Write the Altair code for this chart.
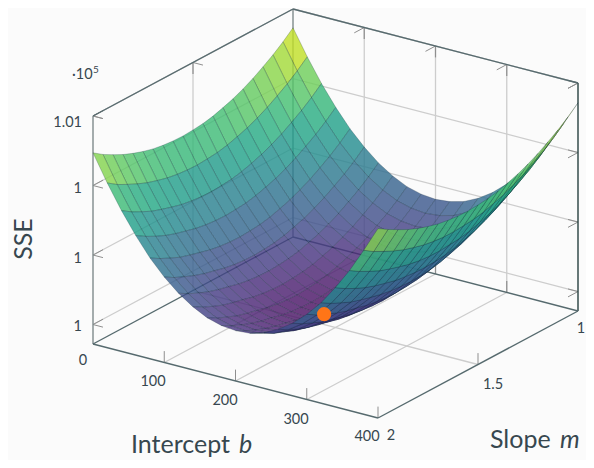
import altair as alt

W, H = 578, 452
FONT = "Lato"
INK = "#37474f"

# axis values
B_TICKS = [0, 100, 200, 300, 400]
M_TICKS = [1, 1.5, 2]
SSE_TICKS = [100000, 100200, 100400, 100600]
SSE_LABELS = ["1", "1", "1", "1.01"]

# grid of the surface: intercept b in steps of 20, slope m in steps of 0.05
B_GRID = [i * 20 for i in range(21)]
M_GRID = [1 + j * 0.05 for j in range(21)]

# SSE minus 100000; one row per b, one column per m
SSE_ROWS = [
    [546,521,499,480,462,447,434,424,415,409,406,404,405,408,413,421,431,443,458,474,494],
    [473,448,426,407,389,374,361,351,342,336,333,331,332,335,340,348,357,369,383,398,418],
    [407,382,360,341,323,308,295,285,276,270,267,265,266,269,274,282,291,301,315,330,349],
    [349,324,302,283,265,250,237,227,218,212,209,207,208,211,216,224,232,242,255,270,288],
    [298,273,251,232,214,199,186,176,167,161,158,156,157,160,165,173,181,190,203,217,234],
    [256,231,209,190,172,157,144,134,125,119,116,114,115,118,123,131,138,148,160,173,190],
    [221,196,174,155,137,122,109,99,90,84,81,79,80,83,88,96,103,112,124,137,154],
    [194,169,147,128,110,95,82,72,63,57,54,52,53,56,61,69,76,84,96,109,126],
    [174,149,127,108,90,75,62,52,43,37,34,32,33,36,41,49,56,64,76,88,105],
    [163,138,116,97,79,64,51,41,32,26,23,21,22,25,30,38,44,53,64,77,93],
    [159,134,112,93,75,60,47,37,28,22,19,17,18,21,26,34,40,49,60,73,89],
    [163,138,116,97,79,64,51,41,32,26,23,21,22,25,30,38,44,53,64,77,92],
    [174,149,127,108,90,75,62,52,43,37,34,32,33,36,41,49,56,64,76,87,104],
    [194,169,147,128,110,95,82,72,63,57,54,52,53,56,61,69,76,84,95,108,125],
    [221,196,174,155,137,122,109,99,90,84,81,79,80,83,88,96,103,111,123,136,153],
    [256,231,209,190,172,157,144,134,125,119,116,114,115,118,123,131,137,147,159,172,189],
    [298,273,251,232,214,199,186,176,167,161,158,156,157,160,165,172,180,189,202,216,233],
    [349,324,302,283,265,250,237,227,218,212,209,207,208,211,215,223,231,241,254,269,287],
    [407,382,360,341,323,308,295,285,276,270,267,265,265,268,273,281,290,300,314,329,347],
    [473,448,426,407,389,374,361,351,342,336,333,331,331,334,339,347,356,368,382,397,416],
    [543,518,496,477,459,444,431,421,412,406,403,401,402,405,410,418,428,440,455,471,489],
]

MIN_POINT = {"b": 200, "m": 1.557, "sse": 100000}

# view of the 3-d box
SSE_LOW, SSE_HIGH = 99944.0, 100600.0


def project(b, m, sse):
    u, v = b / 400, m - 1
    z = (sse - SSE_LOW) / (SSE_HIGH - SSE_LOW)
    return (85 + 285 * u + 200 * (1 - v), 336 + 74 * u - 107 * (1 - v) - 228 * z)


# surface cells, back to front
cells = []
for i in range(20):
    for j in range(20):
        corners = [(i, j), (i + 1, j), (i + 1, j + 1), (i, j + 1)]
        vals = [100000 + SSE_ROWS[a][c] for a, c in corners]
        ring = [list(project(B_GRID[a], M_GRID[c], s)) for (a, c), s in zip(corners, vals)]
        ring.append(ring[0])
        cells.append({
            "type": "Feature",
            "geometry": {"type": "Polygon", "coordinates": [ring]},
            "properties": {},
            "sse": sum(vals) / 4,
        })

GRID_C, TICK_C, BOX_C, EDGE_C = "#cdcdcd", "#8f8f8f", "#566a6e", "#7f8a8c"
segs = {}


def seg(p, q, c, w):
    a, d = project(*p), project(*q)
    segs.setdefault((c, w), []).append({"x": a[0], "y": a[1], "x2": d[0], "y2": d[1]})


def poly(pts, c, w):
    for p, q in zip(pts, pts[1:]):
        seg(p, q, c, w)


TOP, LOW = SSE_HIGH, SSE_LOW
STUB = 0.05 * (SSE_HIGH - SSE_LOW)
for b in B_TICKS[1:-1]:
    poly([(b, 2, LOW), (b, 1, LOW), (b, 1, TOP)], GRID_C, 1.3)
for m in [1.5]:
    poly([(400, m, LOW), (0, m, LOW), (0, m, TOP)], GRID_C, 1.3)
for s in SSE_TICKS:
    poly([(0, 2, s), (0, 1, s), (400, 1, s)], GRID_C, 1.3)
poly([(0, 2, TOP), (0, 1, TOP), (400, 1, TOP)], GRID_C, 1.3)

for s in SSE_TICKS + [TOP]:
    seg((0, 2, s), (0, 1.95, s), TICK_C, 1)
    seg((0, 2, s), (14, 2, s), TICK_C, 1)
    seg((400, 1, s), (400, 1.05, s), TICK_C, 1)
    seg((400, 1, s), (386, 1, s), TICK_C, 1)
for b in B_TICKS[1:-1]:
    seg((b, 2, LOW), (b, 2, LOW + STUB), TICK_C, 1)
    seg((b, 1, TOP), (b, 1, TOP - STUB), TICK_C, 1.2)
    seg((b, 1, TOP), (b, 1.05, TOP), TICK_C, 1)
    seg((b, 1, LOW), (b, 1, LOW + STUB), TICK_C, 1.2)
seg((400, 1.5, LOW), (400, 1.5, LOW + STUB), TICK_C, 1)
seg((400, 2, LOW), (400, 2, LOW + STUB), TICK_C, 1)
seg((0, 1.5, TOP), (0, 1.5, TOP - STUB), TICK_C, 1.2)
seg((0, 1.5, TOP), (14, 1.5, TOP), TICK_C, 1)

seg((0, 2, LOW), (0, 2, TOP), EDGE_C, 1.4)
seg((0, 1, LOW), (0, 1, TOP), EDGE_C, 1.4)
seg((400, 1, LOW), (400, 1, TOP), "#27403f", 1.4)
poly([(0, 2, TOP), (0, 1, TOP), (400, 1, TOP)], BOX_C, 1.3)
poly([(0, 2, LOW), (0, 1, LOW), (400, 1, LOW), (400, 2, LOW), (0, 2, LOW)], BOX_C, 1.4)

X = alt.X("x:Q", scale=alt.Scale(domain=[0, W], range=[0, W]), axis=None)
Y = alt.Y("y:Q", scale=alt.Scale(domain=[0, H], range=[0, H]), axis=None)

line_layers = [
    alt.Chart(alt.Data(values=rows)).mark_rule(color=c, strokeWidth=w).encode(
        x=X, y=Y, x2="x2:Q", y2="y2:Q"
    )
    for (c, w), rows in segs.items()
]

surface = alt.Chart(alt.Data(values=cells)).mark_geoshape(
    fillOpacity=0.8, stroke="#04202c", strokeOpacity=0.28, strokeWidth=0.8,
).encode(
    color=alt.Color("sse:Q", scale=alt.Scale(scheme="viridis", domain=[100003, 100548]), legend=None),
).project(type="identity", scale=1, translate=[0, 0])

dx, dy = project(MIN_POINT["b"], MIN_POINT["m"], MIN_POINT["sse"])
dot = alt.Chart(alt.Data(values=[{"x": dx, "y": dy}])).mark_point(
    filled=True, size=200, opacity=1, color="#ff7517"
).encode(x=X, y=Y)

labels = [
    # text, x, y, size, align, italic, angle (page pixels)
    ("1.01", 82, 123, 14.5, "right", "normal", 0),
    ("1", 82, 189, 14.5, "right", "normal", 0),
    ("1", 82, 259, 14.5, "right", "normal", 0),
    ("1", 82, 327, 14.5, "right", "normal", 0),
    ("·10", 72, 75, 14.5, "left", "normal", 0),
    ("5", 93, 70, 10, "left", "normal", 0),
    ("0", 83, 361, 14.5, "center", "normal", 0),
    ("100", 153, 382, 14.5, "center", "normal", 0),
    ("200", 225, 401, 14.5, "center", "normal", 0),
    ("300", 296, 420, 14.5, "center", "normal", 0),
    ("400", 367, 437, 14.5, "center", "normal", 0),
    ("2", 391, 436, 14.5, "center", "normal", 0),
    ("1.5", 493, 385, 14.5, "center", "normal", 0),
    ("1", 581, 329, 14.5, "center", "normal", 0),
    ("Intercept", 131, 445, 25, "left", "normal", 0),
    ("b", 239, 445, 25, "left", "italic", 0),
    ("Slope", 490, 440, 25, "left", "normal", 0),
    ("m", 560, 440, 25, "left", "italic", 0),
    ("SSE", 24, 239, 25, "center", "normal", 270),
]
text_layers = [
    alt.Chart(alt.Data(values=[{"t": t, "x": x - 8, "y": y - 8}])).mark_text(
        font=FONT, color=INK, align=a, baseline="middle",
        fontStyle=i, angle=r, fontSize=s,
    ).encode(x=X, y=Y, text="t:N")
    for t, x, y, s, a, i, r in labels
]

chart = alt.layer(*line_layers, surface, dot, *text_layers).properties(
    width=W, height=H, padding=0, background="#fbfbfb",
    autosize=alt.AutoSizeParams(type="none"),
).configure_view(stroke=None)

chart.save("out.html", embed_options={"renderer": "svg", "actions": False})
